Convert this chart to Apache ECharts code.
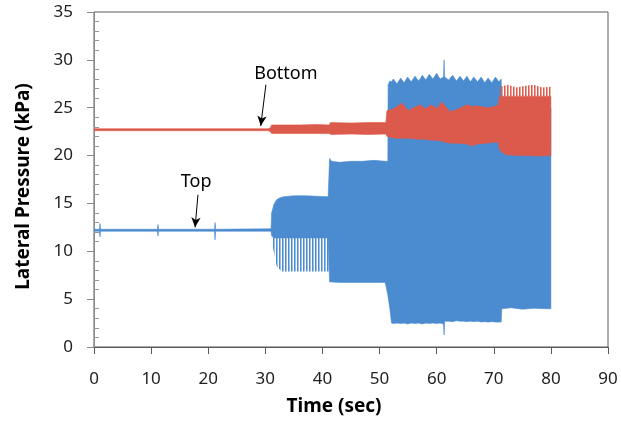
<!DOCTYPE html>
<html>
<head>
<meta charset="utf-8">
<title>Lateral Pressure</title>
<script src="https://cdn.jsdelivr.net/npm/echarts@6/dist/echarts.min.js"></script>
<style>
  html, body { margin: 0; padding: 0; background: #fff; }
  #chart { width: 621px; height: 426px; }
</style>
</head>
<body>
<div id="chart"></div>
<script>
// Axis ticks
const xTicks = [0, 10, 20, 30, 40, 50, 60, 70, 80, 90];
const yTicks = [0, 5, 10, 15, 20, 25, 30, 35];

// "Top" sensor: envelope of the oscillating pressure trace (time in sec, kPa)
const topTime = [0, 0.95, 1.05, 1.15, 11.1, 11.2, 11.3, 21.1, 21.2, 21.3, 31.0, 31.1, 31.5, 32.0, 32.6, 33.2, 35, 37, 39, 41.0,
  41.25, 41.6, 43, 45, 47, 49, 51.0, 51.45, 51.5, 51.8, 52.1,
  52.4, 53.05, 53.7, 54.3, 54.9, 55.55, 56.2, 56.85, 57.5, 58.1, 58.7, 59.35, 60.0, 60.6, 61.2, 61.3, 61.4,
  62.1, 62.8, 63.45, 64.1, 64.7, 65.3, 65.9, 66.5, 67.15, 67.8, 68.4, 69.0, 69.65, 70.3, 70.9, 71.3,
  71.4, 73, 75, 77, 79, 80.0];
const topLow = [12.1, 12.1, 11.5, 12.1, 12.1, 11.6, 12.1, 12.1, 11.2, 12.1, 12.1, 11.6, 11.4, 11.4, 11.4, 11.4, 11.4, 11.4, 11.4, 11.4,
  6.8, 6.8, 6.75, 6.75, 6.75, 6.75, 6.75, 5.4, 5.2, 4.0, 2.5,
  2.45, 2.5, 2.45, 2.5, 2.4, 2.5, 2.45, 2.5, 2.4, 2.5, 2.45, 2.5, 2.45, 2.5, 2.4, 1.25, 2.7,
  2.7, 2.65, 2.75, 2.7, 2.7, 2.65, 2.7, 2.65, 2.7, 2.6, 2.65, 2.6, 2.65, 2.6, 2.6, 2.6,
  4.0, 4.1, 3.95, 4.05, 4.0, 4.0];
const topHigh = [12.3, 12.3, 12.9, 12.3, 12.3, 12.8, 12.3, 12.3, 13.0, 12.3, 12.35, 14.0, 14.9, 15.4, 15.6, 15.7, 15.8, 15.8, 15.75, 15.7,
  19.7, 19.4, 19.3, 19.4, 19.4, 19.5, 19.4, 19.4, 27.4, 27.8, 27.7,
  28.0, 27.5, 28.1, 27.6, 28.2, 27.7, 28.3, 27.8, 28.4, 27.9, 28.5, 28.0, 28.6, 28.0, 28.2, 30.0, 28.2,
  27.9, 28.4, 27.8, 28.3, 27.8, 28.3, 27.7, 28.2, 27.7, 28.2, 27.6, 28.1, 27.6, 28.2, 27.7, 28.0,
  25.0, 25.0, 25.0, 25.0, 25.0, 25.0];

// Sparse lower swing of the "Top" trace between 31 and 41 sec
const topSwingTime = [31.1, 31.3, 32.0, 32.9, 41.2];
const topSwingLow = [11.5, 10.5, 8.4, 7.9, 7.9];
const topSwingHigh = [11.5, 11.4, 11.4, 11.4, 11.4];

// "Bottom" sensor envelope
const bottomTime = [0, 30.5, 30.9, 31.1, 33, 36, 39, 41.2, 41.4, 45, 48, 51.1, 51.3, 52.0, 52.8, 53.9, 55.0, 56.0, 57.1, 58.0,
  59.1, 60.0, 60.9, 62.3, 63.5, 65.3, 66.4, 67.0, 68.8, 70.0, 70.8, 71.0, 72, 74, 76, 78, 80.0];
const bottomLow = [22.6, 22.6, 22.5, 22.3, 22.3, 22.3, 22.3, 22.3, 22.2, 22.25, 22.2, 22.25, 22.0, 21.9, 21.8, 21.8, 21.8, 21.75, 21.7, 21.7,
  21.6, 21.6, 21.5, 21.3, 21.3, 21.2, 21.0, 21.2, 21.3, 21.4, 21.4, 20.6, 20.1, 20.0, 20.0, 19.95, 20.0];
const bottomHigh = [22.8, 22.8, 22.9, 23.2, 23.2, 23.2, 23.25, 23.2, 23.45, 23.4, 23.45, 23.45, 24.7, 24.8, 25.0, 25.5, 24.7, 25.0, 25.3, 24.9,
  25.3, 24.9, 25.6, 24.6, 24.8, 25.3, 25.1, 25.2, 25.0, 25.1, 25.3, 26.2, 26.2, 26.2, 26.2, 26.2, 26.2];

// Sparse upper swing of the "Bottom" trace after 71 sec
const bottomSwingTime = [71.0, 72.5, 74, 75.5, 77, 78.5, 80.0];
const bottomSwingLow = [26.2, 26.2, 26.2, 26.2, 26.2, 26.2, 26.2];
const bottomSwingHigh = [27.2, 27.4, 27.1, 27.3, 27.4, 27.1, 27.2];

const BLUE = '#4b8bcf';
const RED = '#db5a4c';
const FONT = 'Noto Sans';

function zipBand(t, lo, hi) {
  return t.map((v, i) => [v, lo[i], hi[i]]);
}

// Vertical hatch used for the sparse, fast swings of a trace
function hatch(color) {
  const c = document.createElement('canvas');
  c.width = 3;
  c.height = 4;
  const g = c.getContext('2d');
  g.fillStyle = color;
  g.fillRect(0, 0, 1, 4);
  g.globalAlpha = 0.55;
  g.fillRect(1, 0, 1, 4);
  return { image: c, repeat: 'repeat' };
}

// Draws a filled band between the low and high envelopes as one polygon
function bandRenderer(fill, stroke) {
  return function (params, api) {
    if (params.dataIndexInside !== 0) return null;
    const n = params.dataInsideLength;
    const upper = [];
    const lower = [];
    for (let i = 0; i < n; i++) {
      const t = api.value(0, i);
      upper.push(api.coord([t, api.value(2, i)]));
      lower.push(api.coord([t, api.value(1, i)]));
    }
    return {
      type: 'polygon',
      silent: true,
      shape: { points: upper.concat(lower.reverse()) },
      style: { fill: fill, stroke: stroke, lineWidth: stroke ? 0.6 : 0 }
    };
  };
}

function band(name, data, fill, stroke, extra) {
  return Object.assign({
    type: 'custom',
    name: name,
    data: data,
    encode: { x: 0, y: [1, 2] },
    renderItem: bandRenderer(fill, stroke),
    animation: false,
    clip: true
  }, extra || {});
}

const arrowStyle = {
  symbol: ['none', 'arrow'],
  symbolSize: [7, 10],
  silent: true,
  animation: false,
  label: { show: false },
  lineStyle: { color: '#000', width: 1, type: 'solid' }
};

function tag(text, coord) {
  return {
    coord: coord,
    symbol: 'circle',
    symbolSize: 1,
    itemStyle: { color: 'rgba(0,0,0,0)' },
    label: { show: true, position: 'inside', formatter: text, color: '#000', fontSize: 18, fontFamily: FONT }
  };
}

const chart = echarts.init(document.getElementById('chart'), null, { renderer: 'canvas' });

chart.setOption({
  backgroundColor: '#fff',
  animation: false,
  grid: { left: 94, right: 13, top: 12, bottom: 79, show: true, borderColor: '#5a5a5a', borderWidth: 1 },
  xAxis: {
    type: 'value',
    min: xTicks[0],
    max: xTicks[xTicks.length - 1],
    interval: xTicks[1] - xTicks[0],
    name: 'Time (sec)',
    nameLocation: 'middle',
    nameGap: 50,
    nameTextStyle: { fontFamily: FONT, fontSize: 19, fontWeight: 'bold', color: '#000', padding: [0, 34, 0, 0] },
    axisLine: { show: true, lineStyle: { color: '#5a5a5a', width: 1 } },
    axisTick: { show: true, length: 7, lineStyle: { color: '#5a5a5a' } },
    axisLabel: { fontFamily: FONT, fontSize: 17, color: '#222', margin: 24 },
    splitLine: { show: false }
  },
  yAxis: [{
    type: 'value',
    min: yTicks[0],
    max: yTicks[yTicks.length - 1],
    interval: yTicks[1] - yTicks[0],
    name: 'Lateral Pressure (kPa)',
    nameLocation: 'middle',
    nameGap: 61,
    nameTextStyle: { fontFamily: FONT, fontSize: 19, fontWeight: 'bold', color: '#000', padding: [0, 14, 0, 0] },
    axisLine: { show: true, lineStyle: { color: '#8a8a8a', width: 1 } },
    axisTick: { show: true, length: 7, lineStyle: { color: '#8a8a8a' } },
    axisLabel: { fontFamily: FONT, fontSize: 17, color: '#222', margin: 21 },
    splitLine: { show: false }
  }, {
    // minor ticks pointing into the plot from the left edge
    type: 'value',
    position: 'right',
    offset: -514,
    min: yTicks[0],
    max: yTicks[yTicks.length - 1],
    interval: yTicks[1] - yTicks[0],
    axisLine: { show: false },
    axisTick: { show: false },
    minorTick: { show: true, splitNumber: 5, length: 5, lineStyle: { color: '#9a9a9a' } },
    axisLabel: { show: false },
    splitLine: { show: false }
  }],
  series: [
    band('Top', zipBand(topTime, topLow, topHigh), BLUE, BLUE),
    band('Top swing', zipBand(topSwingTime, topSwingLow, topSwingHigh), hatch(BLUE), null),
    band('Bottom', zipBand(bottomTime, bottomLow, bottomHigh), RED, RED, {
      markLine: Object.assign({ data: [[{ coord: [30.1, 27.4] }, { coord: [29.2, 23.1] }]] }, arrowStyle),
      markPoint: { silent: true, animation: false, data: [tag('Bottom', [33.6, 28.5])] }
    }),
    band('Bottom swing', zipBand(bottomSwingTime, bottomSwingLow, bottomSwingHigh), hatch(RED), null),
    {
      type: 'custom',
      name: 'Top label',
      data: [],
      renderItem: function () { return null; },
      markLine: Object.assign({ data: [[{ coord: [18.2, 15.9] }, { coord: [17.7, 12.5] }]] }, arrowStyle),
      markPoint: { silent: true, animation: false, data: [tag('Top', [17.9, 17.3])] }
    }
  ]
});
</script>
</body>
</html>
